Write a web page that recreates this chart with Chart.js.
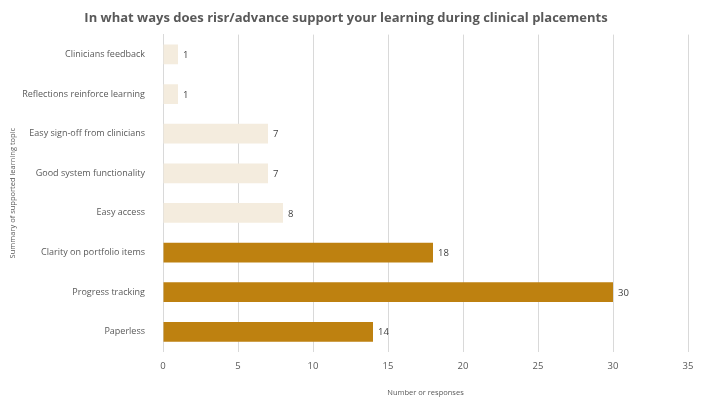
<!DOCTYPE html>
<html>
<head>
<meta charset="utf-8">
<script src="https://cdn.jsdelivr.net/npm/chart.js@4"></script>
<style>
  html, body { margin: 0; padding: 0; background: #fff; }
</style>
</head>
<body>
<canvas id="learnChart" width="720" height="405"></canvas>
<script>
const categories = [
    'Clinicians feedback',
    'Reflections reinforce learning',
    'Easy sign-off from clinicians',
    'Good system functionality',
    'Easy access',
    'Clarity on portfolio items',
    'Progress tracking',
    'Paperless'
];
const responses = [1, 1, 7, 7, 8, 18, 30, 14];
const barColors = [
    '#F4ECDE', '#F4ECDE', '#F4ECDE', '#F4ECDE', '#F4ECDE',
    '#BE8110', '#BE8110', '#BE8110'
];
const xTicks = [0, 5, 10, 15, 20, 25, 30, 35];

const fontFamily = "'Open Sans', 'Liberation Sans', sans-serif";

// value labels at the end of each bar
const valueLabels = {
    id: 'valueLabels',
    afterDatasetsDraw(chart) {
        const ctx = chart.ctx;
        const meta = chart.getDatasetMeta(0);
        ctx.save();
        ctx.font = '9.5px ' + fontFamily;
        ctx.fillStyle = '#404040';
        ctx.textBaseline = 'middle';
        meta.data.forEach(function (bar, i) {
            ctx.fillText(responses[i], bar.x + 5, bar.y + 1);
        });
        ctx.restore();
    }
};

new Chart(document.querySelector('#learnChart'), {
    type: 'bar',
    data: {
        labels: categories,
        datasets: [{
            data: responses,
            backgroundColor: barColors,
            borderWidth: 0,
            categoryPercentage: 1,
            barPercentage: 0.5
        }]
    },
    plugins: [valueLabels],
    options: {
        indexAxis: 'y',
        responsive: false,
        animation: false,
        devicePixelRatio: 1,
        layout: { padding: { left: 4, right: 32, top: 4, bottom: 4 } },
        plugins: {
            legend: { display: false },
            tooltip: { enabled: false },
            title: {
                display: true,
                text: 'In what ways does risr/advance support your learning during clinical placements',
                color: '#595959',
                font: { family: fontFamily, size: 13, weight: 'bold' },
                padding: { top: 6, bottom: 9 }
            }
        },
        scales: {
            x: {
                min: 0,
                max: 35,
                afterBuildTicks(scale) {
                    scale.ticks = xTicks.map(function (v) { return { value: v }; });
                },
                grid: { color: '#D9D9D9', drawTicks: false },
                border: { display: false },
                ticks: {
                    color: '#595959',
                    padding: 9,
                    maxRotation: 0,
                    font: { family: fontFamily, size: 9.5 }
                },
                title: {
                    display: true,
                    text: 'Number or responses',
                    color: '#595959',
                    font: { family: fontFamily, size: 7.5 },
                    padding: { top: 7 }
                }
            },
            y: {
                grid: { display: false },
                border: { display: true, color: '#D9D9D9' },
                ticks: {
                    color: '#595959',
                    padding: 10,
                    autoSkip: false,
                    font: { family: fontFamily, size: 9 }
                },
                title: {
                    display: true,
                    text: 'Summary of supported learning topic',
                    color: '#595959',
                    font: { family: fontFamily, size: 7.5 },
                    padding: { bottom: 2 }
                },
                afterFit(scale) {
                    scale.width = 159;
                }
            }
        }
    }
});
</script>
</body>
</html>
